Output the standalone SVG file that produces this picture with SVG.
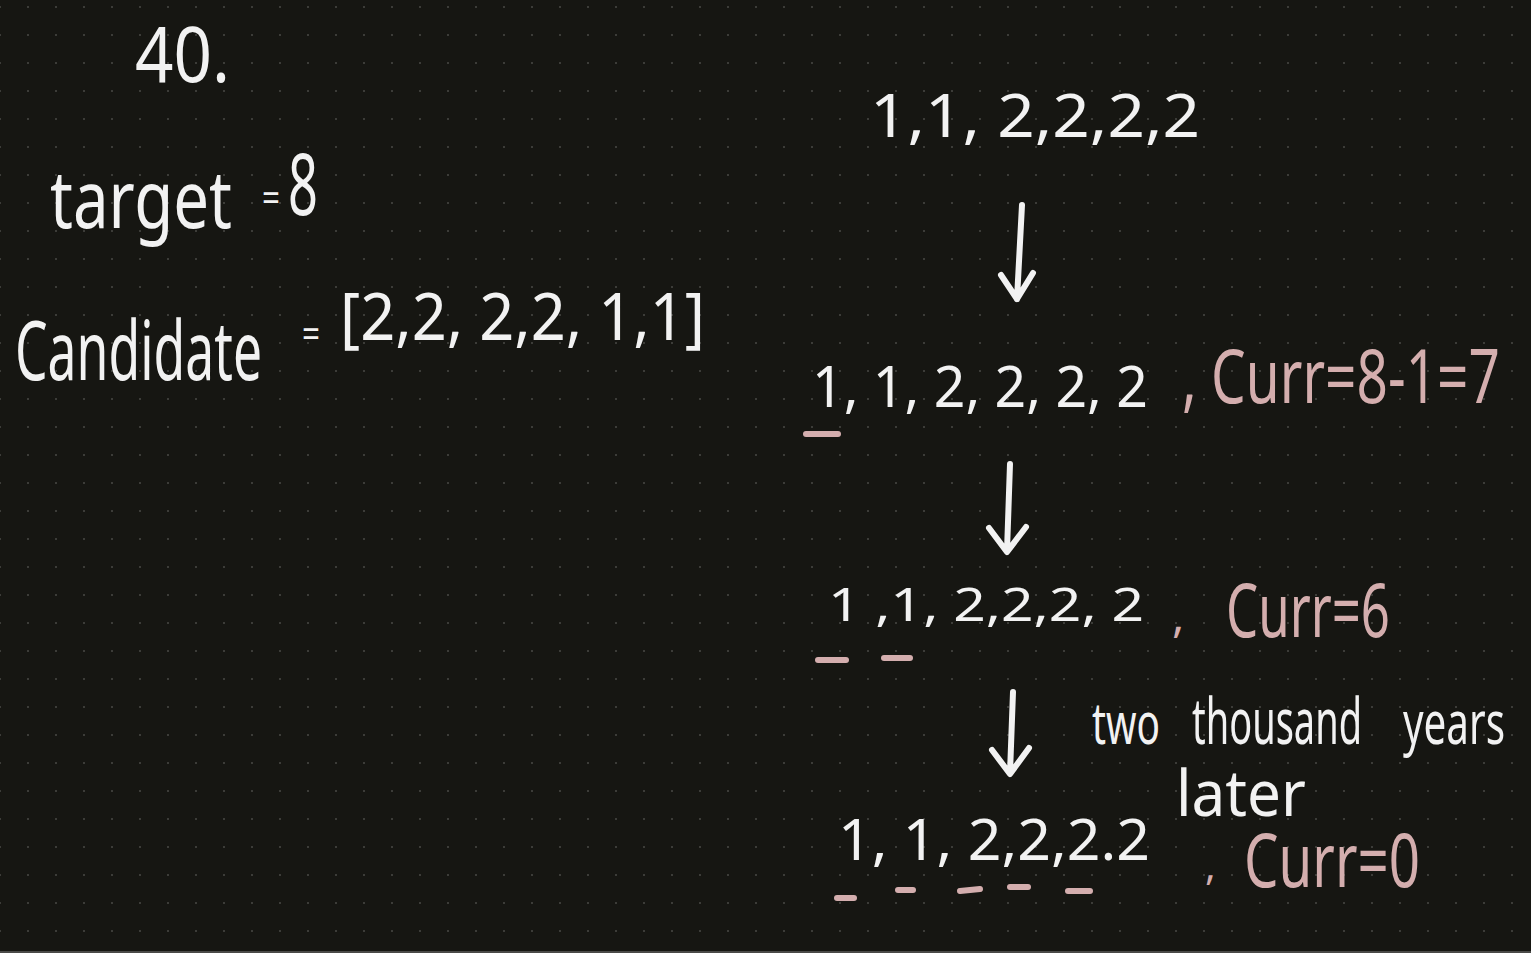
<svg xmlns="http://www.w3.org/2000/svg" width="1531" height="953" viewBox="0 0 1531 953">
<defs>
<pattern id="dots" patternUnits="userSpaceOnUse" x="-14" y="-7" width="28" height="28">
<rect x="13" y="13" width="2" height="2" fill="#3c3c38"/>
</pattern>
<style>
.w{fill:#f2f2f2;font-family:"Noto Sans","DejaVu Sans",sans-serif;}
.p{fill:#d4aeae;font-family:"Noto Sans","DejaVu Sans",sans-serif;}
.arr{fill:none;stroke:#f2f2f2;stroke-width:6;stroke-linecap:round;stroke-linejoin:round;}
.ul{fill:none;stroke:#d4aeae;stroke-width:6;stroke-linecap:round;}
</style>
</defs>
<rect width="1531" height="953" fill="#161612"/>
<rect width="1531" height="950" fill="url(#dots)"/>
<rect x="0" y="951" width="1531" height="2" fill="#4a4a48"/>

<g id="title"><text class="w" x="135" y="82" font-size="76" textLength="95" lengthAdjust="spacingAndGlyphs">40.</text></g>

<g id="target">
<text class="w" transform="translate(50,228) scale(1,1.55)" font-size="52" textLength="182" lengthAdjust="spacingAndGlyphs">target</text>
<text class="w" x="262" y="212" font-size="40" textLength="18" lengthAdjust="spacingAndGlyphs">=</text>
<text class="w" x="288" y="215" font-size="86" textLength="30" lengthAdjust="spacingAndGlyphs">8</text>
</g>

<g id="candidate">
<text class="w" transform="translate(15,380) scale(1,1.58)" font-size="52" textLength="247" lengthAdjust="spacingAndGlyphs">Candidate</text>
<text class="w" x="302" y="348" font-size="40" textLength="18" lengthAdjust="spacingAndGlyphs">=</text>
<text class="w" x="340" y="340" font-size="66" textLength="365" lengthAdjust="spacingAndGlyphs">[2,2, 2,2, 1,1]</text>
</g>

<g id="row1"><text class="w" x="870" y="137" font-size="60" textLength="330" lengthAdjust="spacingAndGlyphs">1,1, 2,2,2,2</text></g>

<g id="row2">
<text class="w" x="812" y="407" font-size="56" textLength="336" lengthAdjust="spacingAndGlyphs">1, 1, 2, 2, 2, 2</text>
<text class="p" transform="translate(1182,403) scale(1,1.35)" font-size="55" textLength="318" lengthAdjust="spacingAndGlyphs">, Curr=8-1=7</text>
<line class="ul" x1="806" y1="434" x2="838" y2="434"/>
</g>

<g id="row3">
<text class="w" x="828" y="621" font-size="46" textLength="316" lengthAdjust="spacingAndGlyphs">1 ,1, 2,2,2, 2</text>
<text class="p" x="1172" y="632" font-size="46">,</text>
<text class="p" x="1226" y="637" font-size="74" textLength="164" lengthAdjust="spacingAndGlyphs">Curr=6</text>
<line class="ul" x1="818" y1="660" x2="846" y2="660"/>
<line class="ul" x1="884" y1="658" x2="910" y2="658"/>
</g>

<g id="note">
<text class="w" transform="translate(1092,744) scale(1,1.55)" font-size="38" textLength="68" lengthAdjust="spacingAndGlyphs">two</text>
<text class="w" transform="translate(1192,744) scale(1,1.7)" font-size="38" textLength="170" lengthAdjust="spacingAndGlyphs">thousand</text>
<text class="w" transform="translate(1403,744) scale(1,1.5)" font-size="40" textLength="102" lengthAdjust="spacingAndGlyphs">years</text>
<text class="w" transform="translate(1176,816) scale(1,1.1)" font-size="58" textLength="130" lengthAdjust="spacingAndGlyphs">later</text>
</g>

<g id="row4">
<text class="w" x="838" y="860" font-size="56" textLength="312" lengthAdjust="spacingAndGlyphs">1, 1, 2,2,2.2</text>
<text class="p" x="1205" y="880" font-size="40">,</text>
<text class="p" transform="translate(1244,887) scale(1,1.48)" font-size="50" textLength="176" lengthAdjust="spacingAndGlyphs">Curr=0</text>
<line class="ul" x1="837" y1="898" x2="854" y2="898"/>
<line class="ul" x1="898" y1="890" x2="913" y2="890"/>
<line class="ul" x1="960" y1="891" x2="980" y2="889"/>
<line class="ul" x1="1010" y1="887" x2="1028" y2="887"/>
<line class="ul" x1="1068" y1="891" x2="1090" y2="891"/>
</g>

<g id="connectors">
<path class="arr" d="M1022,205 L1017,299 M1001,275 L1017,299 L1033,273"/>
<path class="arr" d="M1010,464 L1007,551 M989,528 L1007,552 L1026,527"/>
<path class="arr" d="M1013,692 L1010,773 M992,750 L1010,774 L1029,748"/>
</g>
</svg>
